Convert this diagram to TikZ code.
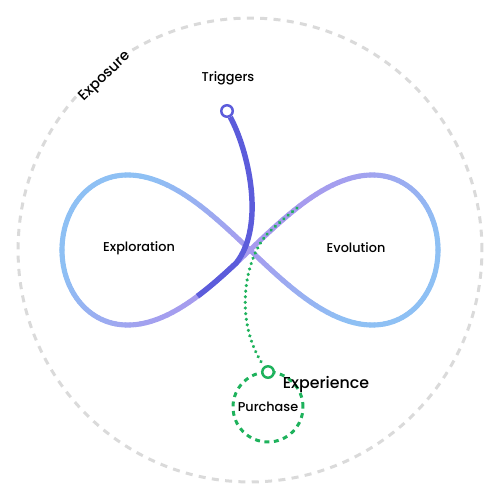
\documentclass[tikz,border=0pt]{standalone}
\usepackage{fontspec}
\setmainfont{Poppins}[UprightFont={* Medium}]
\definecolor{loopblue}{RGB}{142,192,244}
\definecolor{looppurple}{RGB}{167,154,238}
\definecolor{trigblue}{RGB}{92,92,219}
\definecolor{expgreen}{RGB}{30,178,92}
\definecolor{ringgrey}{RGB}{218,218,218}
\newcommand{\infx}[1]{250-188*cos(#1)*(1-0.16*sin(#1)*sin(#1))}
\newcommand{\infy}[1]{250-150*sin(#1)*cos(#1)}
\begin{document}
\begin{tikzpicture}[x=0.02cm,y=-0.02cm,
    lbl/.style={font=\fontsize{7.3}{9}\selectfont},
    dot/.style={draw=#1,circle,line width=1.4pt,fill=white,minimum size=0.23cm,inner sep=0pt},
    trigline/.style={trigblue,line width=3.1pt},
    greendots/.style={expgreen,line width=2pt,line cap=round,dash pattern=on 0.01pt off 3.2pt},
    greendash/.style={expgreen,line width=1.7pt,dash pattern=on 2.8pt off 2.6pt}]
    \useasboundingbox (0,0) rectangle (500,500);
    \draw[ringgrey,line width=1.7pt,dash pattern=on 4pt off 3.6pt] (250,250) circle[radius=4.64cm];
    \foreach \t in {0,2,...,358} {
        \pgfmathsetmacro\xm{\infx{\t+1}}
        \pgfmathsetmacro\ym{\infy{\t+1}}
        \pgfmathsetmacro\w{min(100,abs(500-\xm-\ym)/1.7)}
        \draw[line width=2.9pt,line cap=round,loopblue!\w!looppurple]
            plot[domain=\t:\t+2,samples=3] ({\infx{\x}},{\infy{\x}});
    }
    \draw[greendash] (268,407) circle[radius=0.7cm];
    \node[dot=trigblue] (trig) at (227,111) {};
    \node[dot=expgreen] (exp) at (268,372) {};
    \draw[trigline] (trig) .. controls (248,150) and (266,225) .. ({\infx{275}},{\infy{275}})
        -- plot[domain=275:289,samples=15] ({\infx{\x}},{\infy{\x}});
    \draw[greendots] plot[domain=253:262,samples=10] ({\infx{\x}},{\infy{\x}})
        .. controls (245,252) and (232,320) .. (exp);
    \node[lbl] (triggers) at (228,78) {Triggers};
    \node[lbl] (exploration) at (139,248) {Exploration};
    \node[lbl] (evolution) at (356,248) {Evolution};
    \node[lbl] (purchase) at (268,407) {Purchase};
    \node[font=\fontsize{9}{11}\selectfont] (experience) at (326,384) {Experience};
    \node[font=\fontsize{8.2}{10}\selectfont,rotate=44,fill=white,inner sep=1pt] (exposure) at (105,77) {Exposure};
\end{tikzpicture}
\end{document}
